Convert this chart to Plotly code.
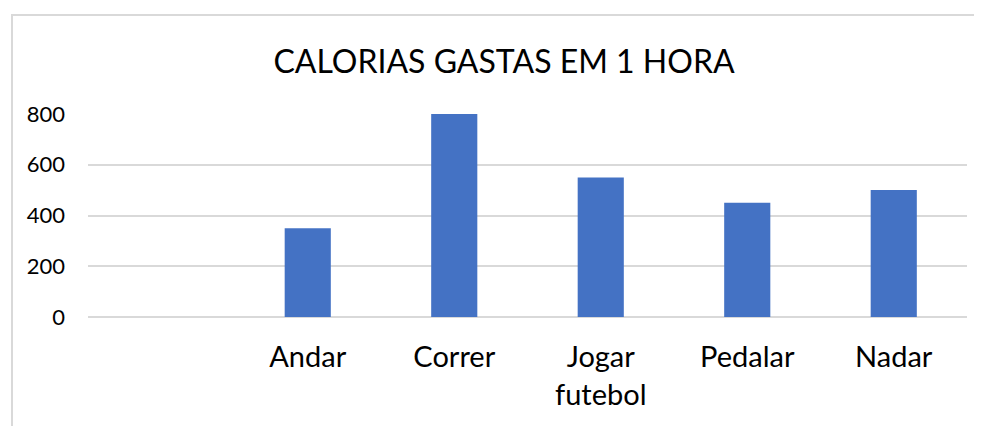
import plotly.graph_objects as go

categories = [" ", "Andar", "Correr", "Jogar<br>futebol", "Pedalar", "Nadar"]
calorias = [None, 350, 800, 550, 450, 500]
y_ticks = [0, 200, 400, 600, 800]
title_text = "CALORIAS GASTAS EM 1 HORA"

OFF = 8  # page body margin
W, H = 982 - OFF, 426 - OFF
L, R, T, B = 88 - OFF, 15, 114 - OFF, 109
pw, ph = W - L - R, H - T - B

fig = go.Figure()
fig.add_trace(go.Bar(x=categories, y=calorias, marker=dict(color="#4472C4", line=dict(width=0)),
                     width=0.315))

FONT = "Lato, 'Open Sans', sans-serif"
fig.update_layout(
    width=W, height=H,
    margin=dict(l=L, r=R, t=T, b=B, pad=0),
    paper_bgcolor="white", plot_bgcolor="white",
    showlegend=False,
    title=dict(text=title_text, x=(504 - OFF) / W, xref="container", xanchor="center",
               y=1 - (62 - OFF) / H, yref="container", yanchor="middle",
               font=dict(family=FONT, size=32, color="#000000")),
    xaxis=dict(type="category", categoryorder="array", categoryarray=categories,
               showgrid=False, showline=False, zeroline=False, ticks="",
               tickfont=dict(family=FONT, size=29, color="#000000"),
               ticklabelstandoff=20, range=[-0.5, 5.5]),
    yaxis=dict(range=[0, 800], tickvals=y_ticks, showgrid=True, gridcolor="#d9d9d9", gridwidth=1.5,
               zeroline=True, zerolinecolor="#d9d9d9", zerolinewidth=1.5, showline=False, ticks="",
               tickfont=dict(family=FONT, size=22, color="#000000"), ticklabelstandoff=22),
    shapes=[dict(type="rect", xref="paper", yref="paper",
                 x0=(12 - OFF - L) / pw, x1=(W + 20 - L) / pw,
                 y0=-(H + 20 - T - ph) / ph, y1=1 + (T - (15 - OFF)) / ph,
                 line=dict(color="#d9d9d9", width=2), fillcolor="rgba(0,0,0,0)", layer="below")],
)
fig.write_html("out.html")
